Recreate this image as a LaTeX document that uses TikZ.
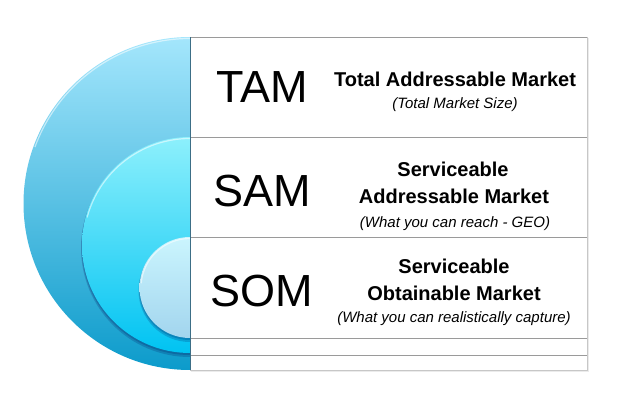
\documentclass[tikz,border=0pt]{standalone}
\usepackage{fontspec}
\setmainfont{Liberation Sans}
\definecolor{tamtop}{HTML}{A4E6FC}
\definecolor{tammid}{HTML}{5DCCF0}
\definecolor{tambot}{HTML}{0C9BCB}
\definecolor{samtop}{HTML}{8DF0FC}
\definecolor{sammid}{HTML}{4FDDF8}
\definecolor{sambot}{HTML}{00C3F2}
\definecolor{somtop}{HTML}{CBF5FE}
\definecolor{sombot}{HTML}{A2D5EE}
\definecolor{rule}{HTML}{9A9A9A}
\definecolor{edge}{HTML}{3C6E86}
\tikzset{
  acronym/.style={anchor=base, inner sep=0pt, font=\fontsize{45}{45}\selectfont},
  title/.style={anchor=base, inner sep=0pt, font=\fontsize{20}{20}\selectfont\bfseries},
  note/.style={anchor=base, inner sep=0pt, font=\fontsize{15}{15}\selectfont\itshape},
  rowline/.style={draw=rule, line width=0.8pt},
  halo/.style={draw=white, draw opacity=0.55, line width=1.2pt},
  dropshade/.style={fill=black!70!blue, fill opacity=0.18},
}
\begin{document}
\begin{tikzpicture}[x=1pt,y=1pt]
\useasboundingbox (0,0) rectangle (618,404);

% outer half disc (TAM)
\shade[top color=tamtop, middle color=tammid, bottom color=tambot]
  (190,367) arc[start angle=90, end angle=270, radius=166.5] -- cycle;
\draw[halo] (190,365.5) arc[start angle=90, end angle=160, radius=165];

% middle half disc (SAM) with soft shadow
\fill[dropshade] (190,265) arc[start angle=90, end angle=270, radius=109] -- cycle;
\fill[dropshade] (190,266) arc[start angle=90, end angle=270, radius=108.5] -- cycle;
\shade[top color=samtop, middle color=sammid, bottom color=sambot]
  (190,267) arc[start angle=90, end angle=270, radius=108] -- cycle;
\draw[halo] (190,265.5) arc[start angle=90, end angle=165, radius=106.5];

% inner half disc (SOM) with soft shadow
\fill[dropshade] (190,165) arc[start angle=90, end angle=270, radius=51.5] -- cycle;
\fill[dropshade] (190,166) arc[start angle=90, end angle=270, radius=51] -- cycle;
\shade[top color=somtop, bottom color=sombot]
  (190,167) arc[start angle=90, end angle=270, radius=50.5] -- cycle;
\draw[halo] (190,165.5) arc[start angle=90, end angle=175, radius=49];

% table on the right
\fill[white] (190,34) rectangle (587,367);
\draw[draw=black!8, line width=2pt] (191,33) -- (588,33) -- (588,366);
\draw[draw=black!22, line width=0.8pt] (587,367) -- (587,34) -- (190,34);
\draw[rowline] (190,367) -- (587,367);
\draw[rowline] (190,267) -- (587,267);
\draw[rowline] (190,167) -- (587,167);
\draw[rowline] (190,66) -- (587,66);
\draw[rowline] (190,49) -- (587,49);
\draw[draw=edge, line width=1pt] (190,34) -- (190,367);

% TAM row
\node[acronym] (tam) at (262,301) {TAM};
\node[title] (tamtitle) at (455,317) {Total Addressable Market};
\node[note] (tamnote) at (455,295.5) {(Total Market Size)};

% SAM row
\node[acronym] (sam) at (262,197.5) {SAM};
\node[title] (samtitle1) at (453,227) {Serviceable};
\node[title] (samtitle2) at (454,200) {Addressable Market};
\node[note] (samnote) at (455,176.5) {(What you can reach - GEO)};

% SOM row
\node[acronym] (som) at (262,97.5) {SOM};
\node[title] (somtitle1) at (454,130) {Serviceable};
\node[title] (somtitle2) at (454,103.5) {Obtainable Market};
\node[note] (somnote) at (454,81) {(What you can realistically capture)};
\end{tikzpicture}
\end{document}
